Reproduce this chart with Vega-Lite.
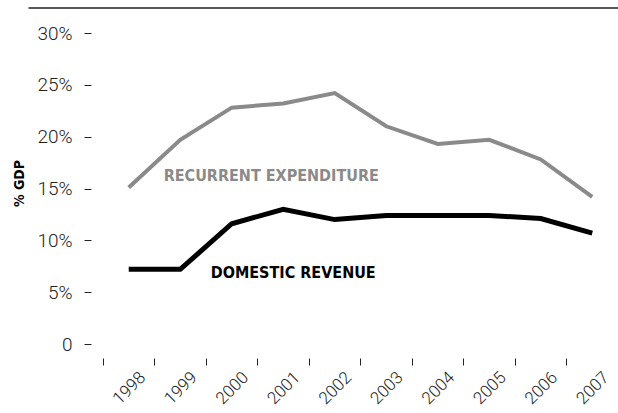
{
  "$schema": "https://vega.github.io/schema/vega-lite/v6.json",
  "autosize": "none",
  "padding": {"left": 28, "top": 33, "right": 0, "bottom": 69},
  "width": 590,
  "height": 311,
  "background": "white",
  "config": {"view": {"stroke": null}},
  "data": {"values": [
    {"year": "1998", "series": "Recurrent expenditure", "value": 15.1},
    {"year": "1999", "series": "Recurrent expenditure", "value": 19.7},
    {"year": "2000", "series": "Recurrent expenditure", "value": 22.8},
    {"year": "2001", "series": "Recurrent expenditure", "value": 23.2},
    {"year": "2002", "series": "Recurrent expenditure", "value": 24.2},
    {"year": "2003", "series": "Recurrent expenditure", "value": 21.0},
    {"year": "2004", "series": "Recurrent expenditure", "value": 19.3},
    {"year": "2005", "series": "Recurrent expenditure", "value": 19.7},
    {"year": "2006", "series": "Recurrent expenditure", "value": 17.8},
    {"year": "2007", "series": "Recurrent expenditure", "value": 14.2},
    {"year": "1998", "series": "Domestic revenue", "value": 7.2},
    {"year": "1999", "series": "Domestic revenue", "value": 7.2},
    {"year": "2000", "series": "Domestic revenue", "value": 11.6},
    {"year": "2001", "series": "Domestic revenue", "value": 13.0},
    {"year": "2002", "series": "Domestic revenue", "value": 12.0},
    {"year": "2003", "series": "Domestic revenue", "value": 12.4},
    {"year": "2004", "series": "Domestic revenue", "value": 12.4},
    {"year": "2005", "series": "Domestic revenue", "value": 12.4},
    {"year": "2006", "series": "Domestic revenue", "value": 12.1},
    {"year": "2007", "series": "Domestic revenue", "value": 10.7}
  ]},
  "resolve": {"axis": {"x": "independent"}},
  "layer": [
    {
      "transform": [{"filter": "datum.series == 'Recurrent expenditure'"}],
      "mark": {"type": "line", "color": "#8a8a8a", "strokeWidth": 4, "strokeJoin": "miter"},
      "encoding": {
        "x": {"field": "year", "type": "ordinal", "bandPosition": 0.5,
          "scale": {"type": "band", "paddingInner": 0, "paddingOuter": 0.728, "align": 1},
          "axis": {"orient": "bottom", "title": null, "domain": false, "tickBand": "extent", "offset": 14, "tickSize": 7, "tickColor": "#222", "tickWidth": 1,
            "labelAngle": -45, "labelFont": "Roboto", "labelFontWeight": 300, "labelFontSize": 17, "labelColor": "#222", "labelPadding": 4, "labelOffset": 8}},
        "y": {"field": "value", "type": "quantitative",
          "scale": {"domain": [0, 30], "nice": false},
          "axis": {"values": [0, 5, 10, 15, 20, 25, 30], "grid": false, "domain": false, "offset": -63, "tickSize": 7, "tickColor": "#222", "tickWidth": 1,
            "labelExpr": "datum.value == 0 ? '0' : datum.value + '%'",
            "labelFont": "Roboto", "labelFontWeight": 300, "labelFontSize": 19, "labelColor": "#222", "labelPadding": 12,
            "title": "% GDP", "titleFont": "DejaVu Sans Condensed, sans-serif", "titleFontWeight": "bold", "titleFontSize": 14, "titleColor": "#000",
            "titleX": -71.5, "titleY": 150, "titleAngle": -90, "titleAlign": "center", "titleBaseline": "middle"}}
      }
    },
    {
      "transform": [{"filter": "datum.series == 'Domestic revenue'"}],
      "mark": {"type": "line", "color": "#000000", "strokeWidth": 5, "strokeJoin": "miter"},
      "encoding": {
        "x": {"field": "year", "type": "ordinal", "bandPosition": 0.5,
          "axis": {"orient": "top", "title": null, "domain": true, "domainColor": "#222", "domainWidth": 1.5, "offset": 25.5, "ticks": false, "labels": false}},
        "y": {"field": "value", "type": "quantitative"}
      }
    },
    {
      "data": {"values": [{"year": "2001", "label": "RECURRENT EXPENDITURE", "value": 15.75}]},
      "mark": {"type": "text", "font": "DejaVu Sans Condensed, sans-serif", "fontWeight": "bold", "fontSize": 16, "color": "#8a8a8a", "align": "center", "baseline": "alphabetic", "dx": -12},
      "encoding": {
        "x": {"field": "year", "type": "ordinal", "bandPosition": 0.5, "axis": null},
        "y": {"field": "value", "type": "quantitative"},
        "text": {"field": "label"}
      }
    },
    {
      "data": {"values": [{"year": "2001", "label": "DOMESTIC REVENUE", "value": 6.41}]},
      "mark": {"type": "text", "font": "DejaVu Sans Condensed, sans-serif", "fontWeight": "bold", "fontSize": 16, "color": "#000000", "align": "center", "baseline": "alphabetic", "dx": 10},
      "encoding": {
        "x": {"field": "year", "type": "ordinal", "bandPosition": 0.5, "axis": null},
        "y": {"field": "value", "type": "quantitative"},
        "text": {"field": "label"}
      }
    }
  ]
}
